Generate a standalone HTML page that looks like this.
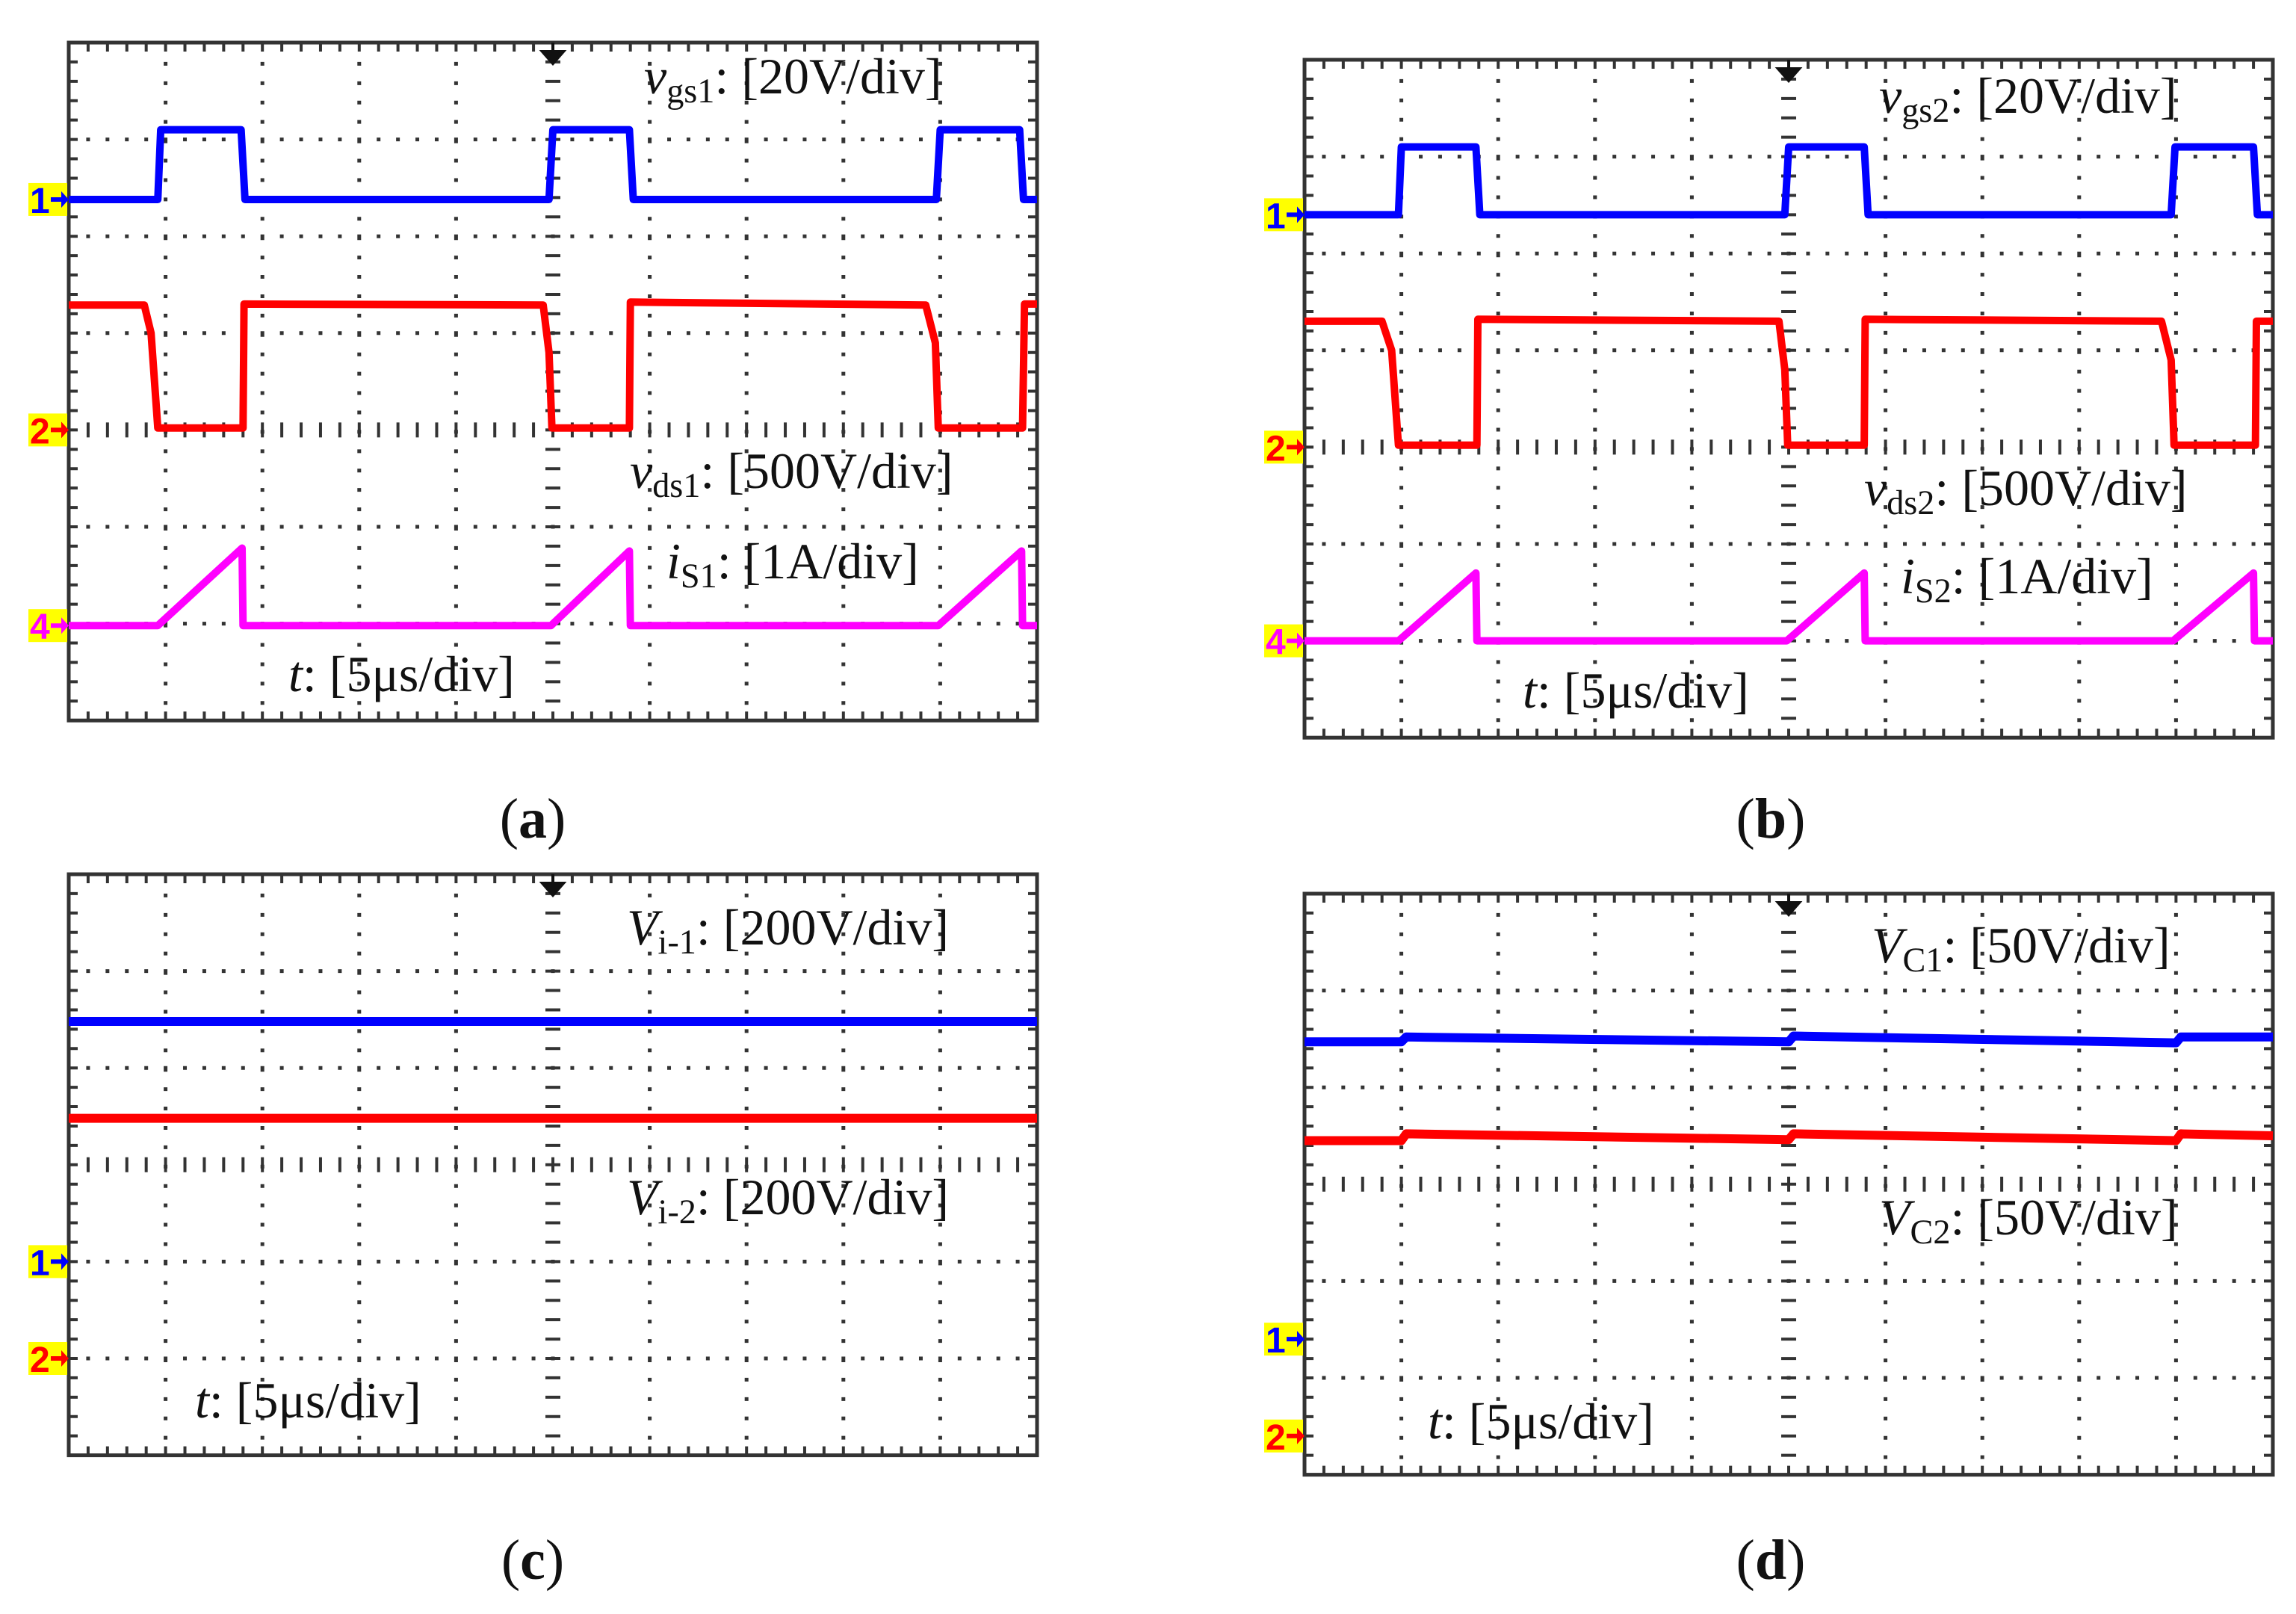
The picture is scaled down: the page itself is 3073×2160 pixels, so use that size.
<!DOCTYPE html>
<html><head><meta charset="utf-8"><style>
html,body{margin:0;padding:0;background:#fff;}
svg{display:block;}
text{font-family:"Liberation Serif",serif;fill:#111;}
</style></head>
<body>
<svg id="fig" width="3073" height="2160" viewBox="0 0 3073 2160" xmlns="http://www.w3.org/2000/svg"></svg>
<script>
// ---- data (time in divisions, value in divisions above centre line) ----
const aBlueT = [0,0.92,0.95,1.78,1.82,4.96,5.0,5.79,5.83,8.96,9.0,9.82,9.86,10];
const aBlueV = [2.38,2.38,3.1,3.1,2.38,2.38,3.1,3.1,2.38,2.38,3.1,3.1,2.38,2.38];
const aRedT = [0,0.78,0.85,0.92,1.8,1.81,4.9,4.96,4.99,5.79,5.8,8.85,8.95,8.98,9.85,9.87,10];
const aRedV = [1.29,1.29,1.0,0.02,0.02,1.3,1.29,0.8,0.02,0.02,1.32,1.29,0.9,0.02,0.02,1.3,1.3];
const aMagT = [0,0.92,1.79,1.8,4.98,5.79,5.8,8.98,9.84,9.85,10];
const aMagV = [-2.02,-2.02,-1.22,-2.02,-2.02,-1.25,-2.02,-2.02,-1.25,-2.02,-2.02];

const bBlueT = [0,0.97,1.0,1.77,1.81,4.96,5.0,5.78,5.82,8.95,8.99,9.8,9.84,10];
const bBlueV = [2.4,2.4,3.1,3.1,2.4,2.4,3.1,3.1,2.4,2.4,3.1,3.1,2.4,2.4];
const bRedT = [0,0.8,0.9,0.97,1.78,1.79,4.9,4.96,4.99,5.78,5.79,8.85,8.95,8.98,9.82,9.83,10];
const bRedV = [1.3,1.3,1.0,0.02,0.02,1.32,1.3,0.8,0.02,0.02,1.32,1.3,0.9,0.02,0.02,1.3,1.3];
const bMagT = [0,0.97,1.77,1.78,4.98,5.78,5.79,8.97,9.8,9.81,10];
const bMagV = [-2.0,-2.0,-1.3,-2.0,-2.0,-1.3,-2.0,-2.0,-1.3,-2.0,-2.0];

const cBlueT = [0,10]; const cBlueV = [1.48,1.48];
const cRedT = [0,10];  const cRedV = [0.48,0.48];
const dBlueT = [0,1.0,1.05,5.0,5.05,9.0,9.05,10]; const dBlueV = [1.47,1.47,1.52,1.47,1.53,1.46,1.52,1.52];
const dRedT = [0,1.0,1.05,5.0,5.05,9.0,9.05,10];  const dRedV = [0.45,0.45,0.52,0.46,0.52,0.45,0.52,0.5];

const NS = "http://www.w3.org/2000/svg";
const svg = document.getElementById('fig');
function el(tag, attrs, parent){const e=document.createElementNS(NS,tag);for(const k in attrs)e.setAttribute(k,attrs[k]);(parent||svg).appendChild(e);return e;}

function panel(id, x0, y0, ndivY, centerDiv){
  const W=1296, div=129.6, H=ndivY*div;
  const g=el('g',{});
  
  
  const yC=y0+centerDiv*div;
  const xs=t=>x0+t*div;
  const ys=v=>yC-v*div;
  let d='';
  for(let i=1;i<10;i++){ if(i===5) continue;
    for(let k=1;k<ndivY*5;k++){ d+=`M${x0+i*div-2.5} ${y0+k*div/5}h5v5h-5z`; } }
  for(let j=1;j<ndivY;j++){ if(j===centerDiv) continue;
    for(let k=1;k<50;k++){ d+=`M${x0+k*div/5-2.5} ${y0+j*div-2.5}h5v5h-5z`; } }
  el('path',{d:d,fill:'#333'},g);
  let t='';
  for(let k=1;k<50;k++){const x=x0+k*div/5; t+=`M${x} ${y0}v12M${x} ${y0+H}v-12`;}
  for(let k=1;k<ndivY*5;k++){const y=y0+k*div/5; t+=`M${x0} ${y}h12M${x0+W} ${y}h-12`;}
  for(let k=1;k<50;k++){const x=x0+k*div/5; t+=`M${x} ${yC-10}v20`;}
  for(let k=1;k<ndivY*5;k++){const y=y0+k*div/5; t+=`M${x0+W/2-10} ${y}h20`;}
  el('path',{d:t,stroke:'#333','stroke-width':4,fill:'none'},g);
  const frame=el('rect',{x:x0,y:y0,width:W,height:H,fill:'none',stroke:'#333','stroke-width':5},g);
  
  
  const trig=el('path',{d:`M${x0+W/2} ${y0}v14M${x0+W/2-14} ${y0+12}h28l-14 16z`,stroke:'#111','stroke-width':4,fill:'#111'},g);
  
  
  return {g,xs,ys,x0,y0,yC,div};
}
function trace(P,T,V,color,name,w){
  let d='';
  for(let i=0;i<T.length;i++){d+=(i?'L':'M')+P.xs(T[i]).toFixed(1)+' '+P.ys(V[i]).toFixed(1);}
  const p=el('path',{d:d,stroke:color,'stroke-width':w||10,fill:'none','stroke-linejoin':'round'},P.g);
  
  
}
function marker(P,v,label,color,name){
  const y=P.ys(v);
  const g=el('g',{},P.g);
  
  
  el('rect',{x:P.x0-54,y:y-22,width:52,height:44,fill:'#ffff00'},g);
  const tx=el('text',{x:P.x0-52,y:y+18,'font-size':48,'font-weight':'bold'},g);
  tx.style.fill=color; tx.style.fontFamily='"Liberation Sans",sans-serif'; tx.textContent=label;
  el('path',{d:`M${P.x0-24} ${y-3}h14v-8l10 11l-10 11v-8h-14z`,fill:color},g);
}
function label(x,y,main,sub,rest,name,size){
  const fs=size||68;
  const t=el('text',{x:x,y:y,'font-size':fs});
  
  
  const a=el('tspan',{'font-style':'italic'},t); a.textContent=main;
  if(sub){const s=el('tspan',{'font-size':fs*0.68,dy:fs*0.18},t); s.textContent=sub;
    const r=el('tspan',{dy:-fs*0.18},t); r.textContent=rest;}
  else {const r=el('tspan',{},t); r.textContent=rest;}
}
function caption(x,y,l,name){
  const t=el('text',{x:x,y:y,'font-size':76,'text-anchor':'middle'});
  
  
  t.appendChild(document.createTextNode('('));
  const b=el('tspan',{'font-weight':'bold'},t); b.textContent=l;
  t.appendChild(document.createTextNode(')'));
}

const A=panel('a',92,57,7,4);
trace(A,aRedT,aRedV,'#ff0000','vds1-trace');
trace(A,aBlueT,aBlueV,'#0000ff','vgs1-trace');
trace(A,aMagT,aMagV,'#ff00ff','is1-trace');
marker(A,2.38,'1','#0000ff','ch1-marker-a');
marker(A,0,'2','#ff0000','ch2-marker-a');
marker(A,-2.02,'4','#ff00ff','ch4-marker-a');
label(862,125,'v','gs1',': [20V/div]','vgs1-label');
label(843,653,'v','ds1',': [500V/div]','vds1-label');
label(892,774,'i','S1',': [1A/div]','is1-label');
label(386,925,'t','',': [5μs/div]','time-scale-label-a');
caption(713,1121,'a','caption-a');

const B=panel('b',1746,80,7,4);
trace(B,bRedT,bRedV,'#ff0000','vds2-trace');
trace(B,bBlueT,bBlueV,'#0000ff','vgs2-trace');
trace(B,bMagT,bMagV,'#ff00ff','is2-trace');
marker(B,2.4,'1','#0000ff','ch1-marker-b');
marker(B,0,'2','#ff0000','ch2-marker-b');
marker(B,-2.0,'4','#ff00ff','ch4-marker-b');
label(2515,151,'v','gs2',': [20V/div]','vgs2-label');
label(2495,676,'v','ds2',': [500V/div]','vds2-label');
label(2544,794,'i','S2',': [1A/div]','is2-label');
label(2038,947,'t','',': [5μs/div]','time-scale-label-b');
caption(2370,1121,'b','caption-b');

const C=panel('c',92,1170,6,3);
trace(C,cBlueT,cBlueV,'#0000ff','vi1-trace',12);
trace(C,cRedT,cRedV,'#ff0000','vi2-trace',12);
marker(C,-1,'1','#0000ff','ch1-marker-c');
marker(C,-2,'2','#ff0000','ch2-marker-c');
label(839,1264,'V','i-1',': [200V/div]','vi1-label');
label(839,1625,'V','i-2',': [200V/div]','vi2-label');
label(261,1897,'t','',': [5μs/div]','time-scale-label-c');
caption(713,2113,'c','caption-c');

const D=panel('d',1746,1196,6,3);
trace(D,dBlueT,dBlueV,'#0000ff','vc1-trace',12);
trace(D,dRedT,dRedV,'#ff0000','vc2-trace',12);
marker(D,-1.6,'1','#0000ff','ch1-marker-d');
marker(D,-2.6,'2','#ff0000','ch2-marker-d');
label(2505,1288,'V','C1',': [50V/div]','vc1-label');
label(2515,1652,'V','C2',': [50V/div]','vc2-label');
label(1911,1925,'t','',': [5μs/div]','time-scale-label-d');
caption(2370,2113,'d','caption-d');
</script>
</body></html>
